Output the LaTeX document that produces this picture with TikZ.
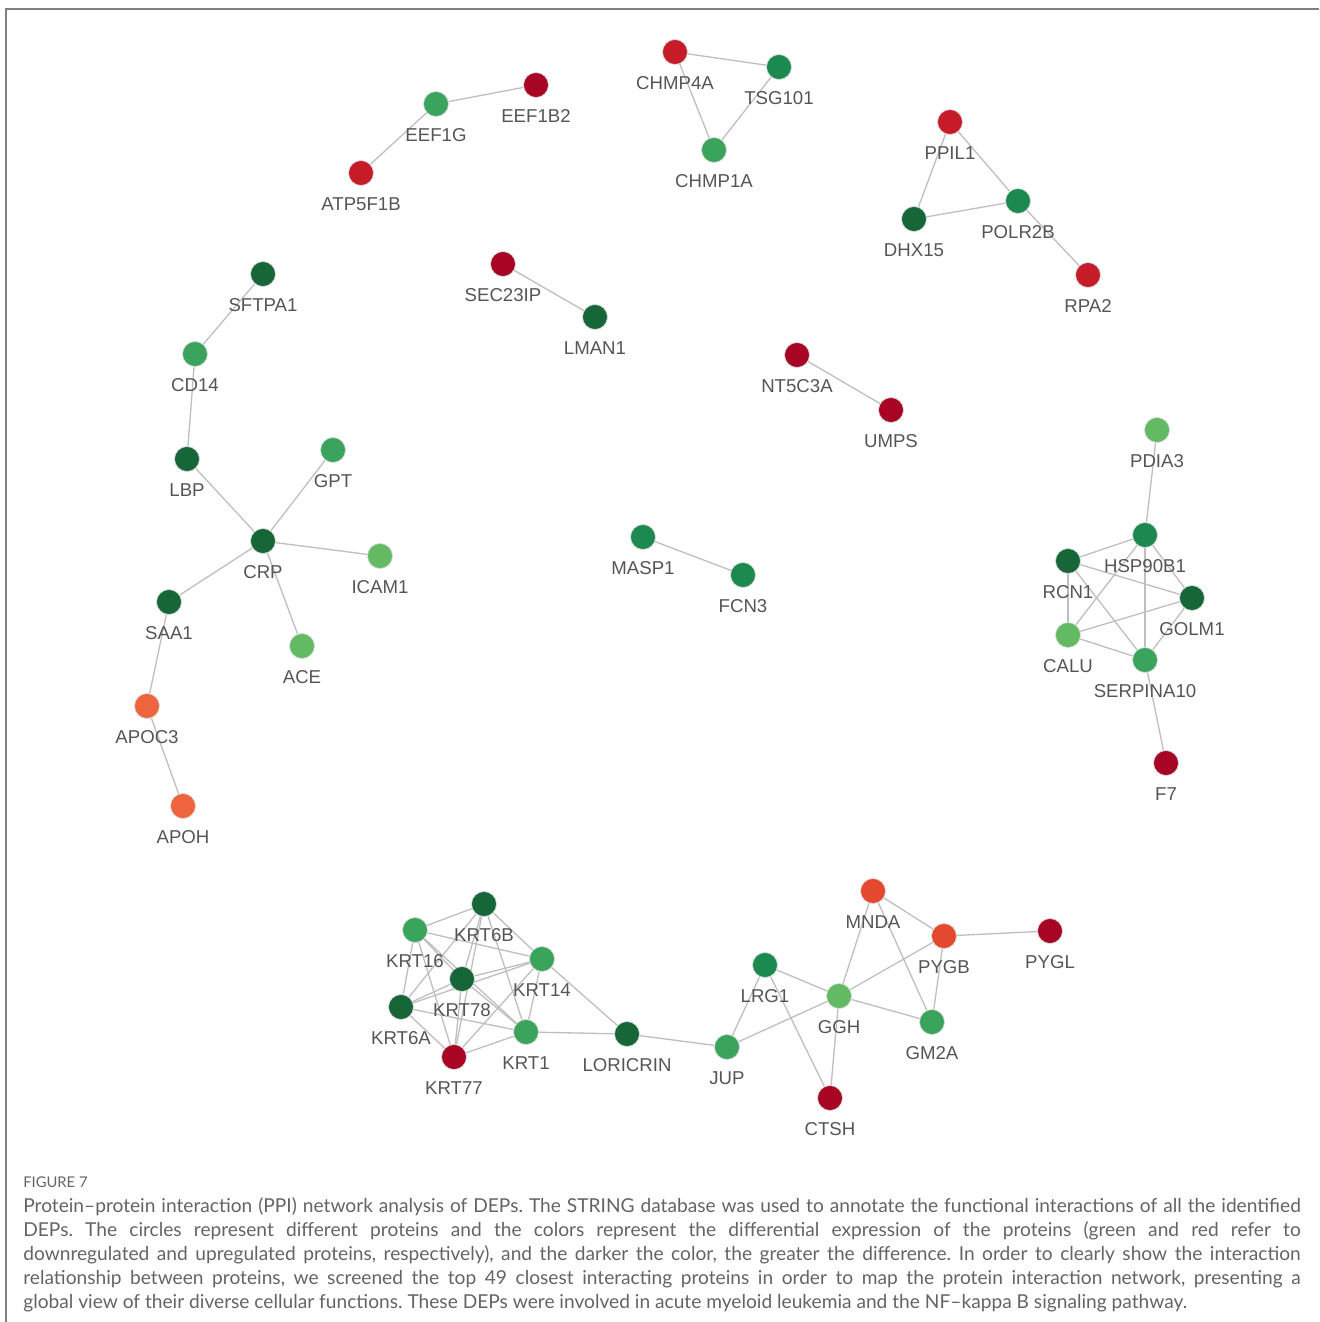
\documentclass[tikz,border=0pt]{standalone}
\usepackage{fontspec}
\setmainfont{Liberation Sans}
\newfontfamily\capfont{Lato}
\usetikzlibrary{backgrounds}
\frenchspacing

\definecolor{gA}{RGB}{22,102,56}
\definecolor{gB}{RGB}{28,138,78}
\definecolor{gC}{RGB}{58,164,92}
\definecolor{gD}{RGB}{98,186,98}
\definecolor{rA}{RGB}{168,4,36}
\definecolor{rB}{RGB}{198,28,40}
\definecolor{rC}{RGB}{228,72,46}
\definecolor{rD}{RGB}{238,100,60}
\definecolor{labgray}{RGB}{85,85,85}
\definecolor{capgray}{RGB}{100,100,100}

\tikzset{
 prot/.style={circle, draw=black!15, line width=.4pt, minimum size=.5cm, inner sep=0pt},
 protlab/.style={text=labgray, font=\fontsize{10.6}{12}\selectfont, inner sep=0pt, text height=7.6pt, text depth=0pt},
 link/.style={draw=black!25, line width=.75pt},
 capline/.style={anchor=base west, inner sep=0pt, text=capgray, font=\capfont\fontsize{10.9}{13}\selectfont}
}

\begin{document}
\begin{tikzpicture}[x=.02cm, y=.02cm]
\useasboundingbox (0,0) rectangle (1319,-1322);
\draw[black!50, line width=1pt] (6,-1322) -- (6,-9) -- (1319,-9);

% proteins: name / x / y / colour
\foreach \n/\x/\y/\c in {
 EEF1B2/536/85/rA, EEF1G/436/104/gC, ATP5F1B/361/173/rB,
 CHMP4A/675/52/rB, TSG101/779/67/gB, CHMP1A/714/150/gC,
 PPIL1/950/122/rB, DHX15/914/219/gA, POLR2B/1018/201/gB, RPA2/1088/275/rB,
 SFTPA1/263/274/gA, CD14/195/354/gC, LBP/187/459/gA, GPT/333/450/gC,
 CRP/263/541/gA, ICAM1/380/556/gD, SAA1/169/602/gA, ACE/302/646/gD,
 APOC3/147/706/rD, APOH/183/806/rD,
 SEC23IP/503/264/rA, LMAN1/595/317/gA,
 NT5C3A/797/355/rA, UMPS/891/410/rA,
 MASP1/643/537/gB, FCN3/743/575/gB,
 PDIA3/1157/430/gD, HSP90B1/1145/535/gB, RCN1/1068/561/gA, GOLM1/1192/598/gA,
 CALU/1068/635/gD, SERPINA10/1145/660/gC, F7/1166/763/rA,
 KRT6B/484/904/gA, KRT16/415/930/gC, KRT14/542/959/gC, KRT78/462/979/gA,
 KRT6A/401/1007/gA, KRT1/526/1032/gC, KRT77/454/1057/rA, LORICRIN/627/1034/gA,
 JUP/727/1047/gC, LRG1/765/965/gB, GGH/839/996/gD, GM2A/932/1022/gC,
 MNDA/873/891/rC, PYGB/944/936/rC, PYGL/1050/931/rA, CTSH/830/1098/rA}{
 \node[prot, fill=\c] (\n) at (\x,-\y) {};
 \node[protlab] (\n-l) at (\x,-\y-31) {\n};
}

\begin{scope}[on background layer]
\foreach \a/\b in {EEF1B2/EEF1G, EEF1G/ATP5F1B,
 CHMP4A/TSG101, CHMP4A/CHMP1A, TSG101/CHMP1A,
 PPIL1/DHX15, PPIL1/POLR2B, DHX15/POLR2B, POLR2B/RPA2,
 SFTPA1/CD14, CD14/LBP, LBP/CRP, GPT/CRP, CRP/ICAM1, CRP/SAA1, CRP/ACE,
 SAA1/APOC3, APOC3/APOH,
 SEC23IP/LMAN1, NT5C3A/UMPS, MASP1/FCN3,
 PDIA3/HSP90B1, SERPINA10/F7,
 KRT14/LORICRIN, KRT1/LORICRIN, LORICRIN/JUP,
 JUP/LRG1, JUP/GGH, LRG1/GGH, LRG1/CTSH, GGH/CTSH, GGH/GM2A,
 GGH/MNDA, GGH/PYGB, MNDA/PYGB, MNDA/GM2A, PYGB/GM2A, PYGB/PYGL}
 \draw[link] (\a) -- (\b);
% fully linked groups
\foreach \a/\rest in {HSP90B1/{RCN1,GOLM1,CALU,SERPINA10}, RCN1/{GOLM1,CALU,SERPINA10},
 GOLM1/{CALU,SERPINA10}, CALU/{SERPINA10},
 KRT6B/{KRT16,KRT14,KRT78,KRT6A,KRT1,KRT77}, KRT16/{KRT14,KRT78,KRT6A,KRT1,KRT77},
 KRT14/{KRT78,KRT6A,KRT1,KRT77}, KRT78/{KRT6A,KRT1,KRT77},
 KRT6A/{KRT1,KRT77}, KRT1/{KRT77}}
 \foreach \b in \rest
  \draw[link] (\a) -- (\b);
\end{scope}

% caption
\node[capline, font=\capfont\fontsize{8.4}{10}\selectfont] (fig) at (23,-1187) {FIGURE 7};
\node[capline] (cap1) at (23,-1212) {\makebox[727pt][s]{Protein–protein interaction (PPI) network analysis of DEPs. The STRING database was used to annotate the functional interactions of all the identified}};
\node[capline] (cap2) at (23,-1236) {\makebox[727pt][s]{DEPs. The circles represent different proteins and the colors represent the differential expression of the proteins (green and red refer to}};
\node[capline] (cap3) at (23,-1260) {\makebox[727pt][s]{downregulated and upregulated proteins, respectively), and the darker the color, the greater the difference. In order to clearly show the interaction}};
\node[capline] (cap4) at (23,-1284) {\makebox[727pt][s]{relationship between proteins, we screened the top 49 closest interacting proteins in order to map the protein interaction network, presenting a}};
\node[capline] (cap5) at (23,-1308) {global view of their diverse cellular functions. These DEPs were involved in acute myeloid leukemia and the NF–kappa B signaling pathway.};
\end{tikzpicture}
\end{document}
